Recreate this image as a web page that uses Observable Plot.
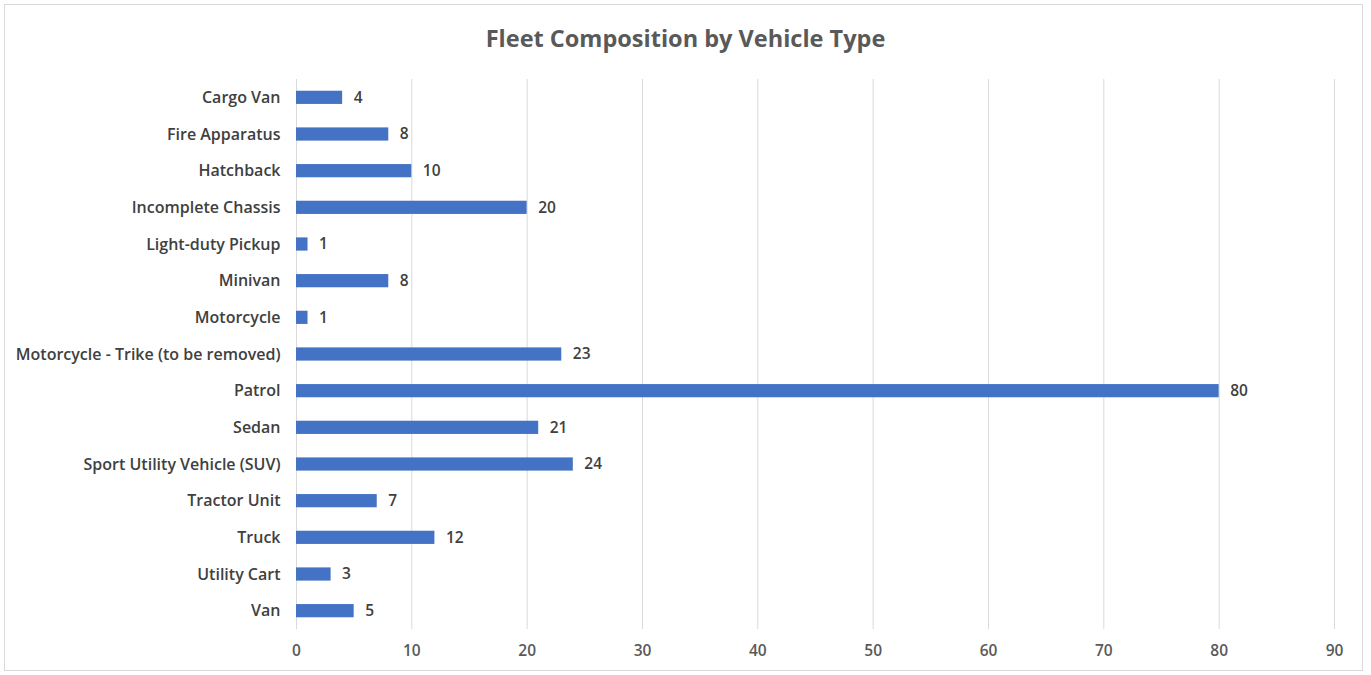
<!DOCTYPE html>
<html>
<head>
<meta charset="utf-8">
<script src="https://cdn.jsdelivr.net/npm/d3@7"></script>
<script src="https://cdn.jsdelivr.net/npm/@observablehq/plot@0.6"></script>
<style>
  html, body { margin: 0; padding: 0; background: #fff; }
  #frame {
    position: absolute; left: 4px; top: 4px; width: 1359px; height: 667px;
    border: 1px solid #d9d9d9; box-sizing: border-box;
  }
  #title {
    position: absolute; left: 0; top: 22px; width: 1371px; text-align: center;
    font-family: "Open Sans", Lato, sans-serif; font-weight: 700; font-size: 23.5px;
    color: #595959; line-height: 32px;
  }
  #chart { position: absolute; left: 0; top: 70px; }
</style>
</head>
<body>
<div id="frame"></div>
<div id="title">Fleet Composition by Vehicle Type</div>
<div id="chart"></div>
<script>
// Vehicle types in display order (top to bottom) and their counts
const vehicleTypes = [
  "Cargo Van", "Fire Apparatus", "Hatchback", "Incomplete Chassis",
  "Light-duty Pickup", "Minivan", "Motorcycle",
  "Motorcycle - Trike (to be removed)", "Patrol", "Sedan",
  "Sport Utility Vehicle (SUV)", "Tractor Unit", "Truck", "Utility Cart", "Van"
];
const counts = [4, 8, 10, 20, 1, 8, 1, 23, 80, 21, 24, 7, 12, 3, 5];
const xTicks = [0, 10, 20, 30, 40, 50, 60, 70, 80, 90];

const rows = vehicleTypes.map((type, i) => ({type, count: counts[i]}));

const font = "'Open Sans', Lato, sans-serif";

const chart = Plot.plot({
  width: 1371,
  height: 605,
  marginTop: 9,
  marginBottom: 46,
  marginLeft: 296,
  marginRight: 37,
  style: {fontFamily: font, fontSize: "16px", fontWeight: 600, color: "#595959", background: "transparent"},
  x: {domain: [0, 90], ticks: xTicks, label: null},
  y: {domain: vehicleTypes, label: null, paddingInner: 0.64, paddingOuter: 0.32, align: 0.5, round: false},
  marks: [
    Plot.gridX(xTicks, {stroke: "#d9d9d9", strokeOpacity: 1, strokeWidth: 1}),
    Plot.barX(rows, {x: "count", y: "type", fill: "#4472C4"}),
    Plot.text(rows, {
      x: "count", y: "type", text: d => String(d.count),
      textAnchor: "start", dx: 11, fill: "#404040", fontSize: 15.5, fontWeight: 600
    }),
    Plot.axisX(xTicks, {tickSize: 0, tickPadding: 15, fill: "#595959", fontSize: 15.5, fontWeight: 600}),
    Plot.axisY({tickSize: 0, tickPadding: 16, fill: "#404040", fontSize: 16, fontWeight: 600})
  ]
});

document.getElementById("chart").appendChild(chart);
</script>
</body>
</html>
